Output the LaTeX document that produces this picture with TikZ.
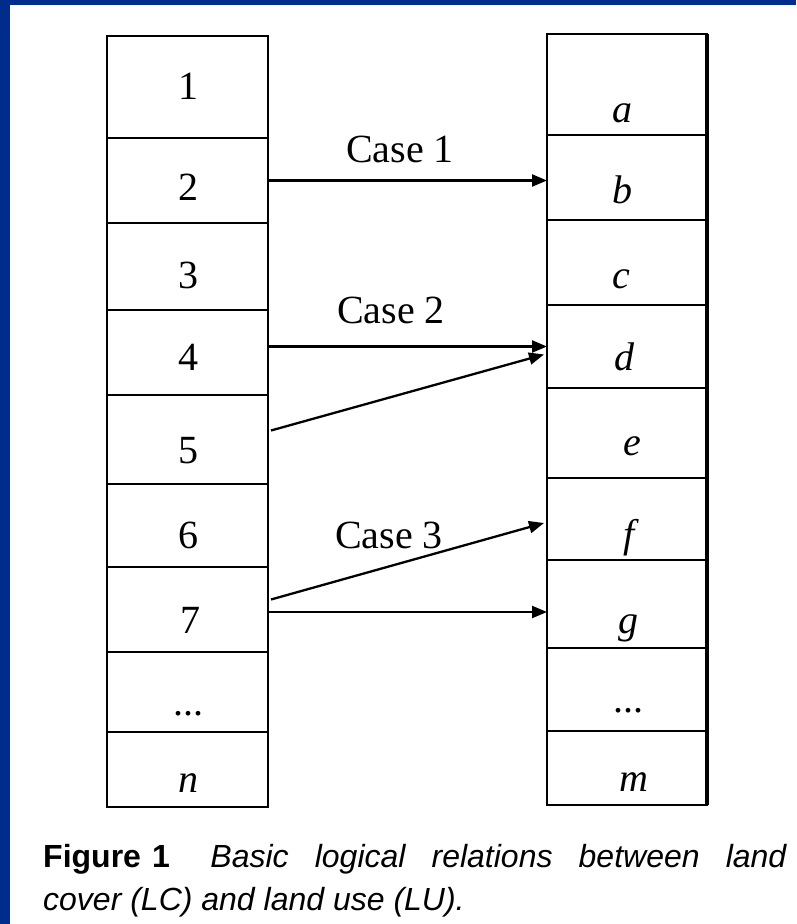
\documentclass[tikz,border=0pt]{standalone}
\usepackage{fontspec}
\setmainfont{Liberation Serif}
\newfontfamily\capfont{Liberation Sans}
\usetikzlibrary{arrows.meta}
\definecolor{slideblue}{RGB}{0,45,140}
\begin{document}
\begin{tikzpicture}[x=1pt,y=-1pt,
  cell/.style={draw, line width=2.3pt, inner sep=0pt, outer sep=0pt, anchor=north west},
  lcell/.style={cell, minimum width=161pt},
  rcell/.style={cell, minimum width=160pt},
  lbl/.style={inner sep=0pt, font=\fontsize{40}{48}\selectfont, anchor=base},
  link/.style={line width=2.3pt, -{Triangle[length=15pt,width=12pt]}},
  captext/.style={inner sep=0pt, anchor=base west, font=\capfont\fontsize{32}{38}\selectfont}]
\useasboundingbox (0,0) rectangle (796,924);
\fill[white] (0,0) rectangle (796,924);
\fill[slideblue] (0,0) rectangle (796,5);
\fill[slideblue] (0,0) rectangle (10,924);
% left column
\foreach \n/\t/\b [evaluate=\b as \h using \b-\t] in
  {1/36/138, 2/138/223, 3/223/310, 4/310/395, 5/395/484, 6/484/567, 7/567/652, 8/652/732, 9/732/807}
  \node[lcell, minimum height=\h pt] (L\n) at (107,\t) {};
% right column
\foreach \n/\t/\b [evaluate=\b as \h using \b-\t] in
  {1/34/135, 2/135/220, 3/220/305, 4/305/388, 5/388/478, 6/478/560, 7/560/648, 8/648/731, 9/731/805}
  \node[rcell, minimum height=\h pt] (R\n) at (547,\t) {};
\draw[line width=3.2pt] (R1.north east) -- (R9.south east);
% left labels
\node[lbl] (t1) at (188,99) {1};
\node[lbl] (t2) at (188,200) {2};
\node[lbl] (t3) at (188,288) {3};
\node[lbl] (t4) at (188,370) {4};
\node[lbl] (t5) at (188,463) {5};
\node[lbl] (t6) at (188,548) {6};
\node[lbl] (t7) at (190,633) {7};
\node[lbl] (t8) at (188,715) {...};
\node[lbl] (t9) at (188,792) {\textit{n}};
% right labels
\node[lbl] (ta) at (622,122) {\textit{a}};
\node[lbl] (tb) at (622,203) {\textit{b}};
\node[lbl] (tc) at (621,288) {\textit{c}};
\node[lbl] (td) at (625,370) {\textit{d}};
\node[lbl] (te) at (632,455) {\textit{e}};
\node[lbl] (tf) at (631,547) {\textit{f}};
\node[lbl] (tg) at (628,633) {\textit{g}};
\node[lbl] (th) at (628,712) {...};
\node[lbl] (tm) at (634,791) {\textit{m}};
% arrows
\draw[link] (L2.east) -- (L2.east -| R2.west);
\draw[link] (L4.east |- R4.west) -- (R4.west);
\draw[link] ([shift={(3pt,9pt)}]L5.east) -- ([shift={(-3pt,-8pt)}]R4.west);
\draw[link] ([shift={(3pt,10pt)}]L7.east) -- ([shift={(-3pt,-4pt)}]R6.west);
\draw[link] ([yshift=-2.5pt]L7.east) -- ([yshift=-2.5pt]L7.east -| R7.west);
% case labels
\node[lbl] (c1) at (400,162) {Case 1};
\node[lbl] (c2) at (391,323) {Case 2};
\node[lbl] (c3) at (389,548) {Case 3};
% caption
\node[captext] (cap1) at (43,867) {\makebox[744pt][s]{\textbf{Figure\hspace{0.35em}1}\hspace{0.45em} \textit{Basic logical relations between land}}};
\node[captext] (cap2) at (43,910) {\textit{cover (LC) and land use (LU).}};
\end{tikzpicture}
\end{document}
